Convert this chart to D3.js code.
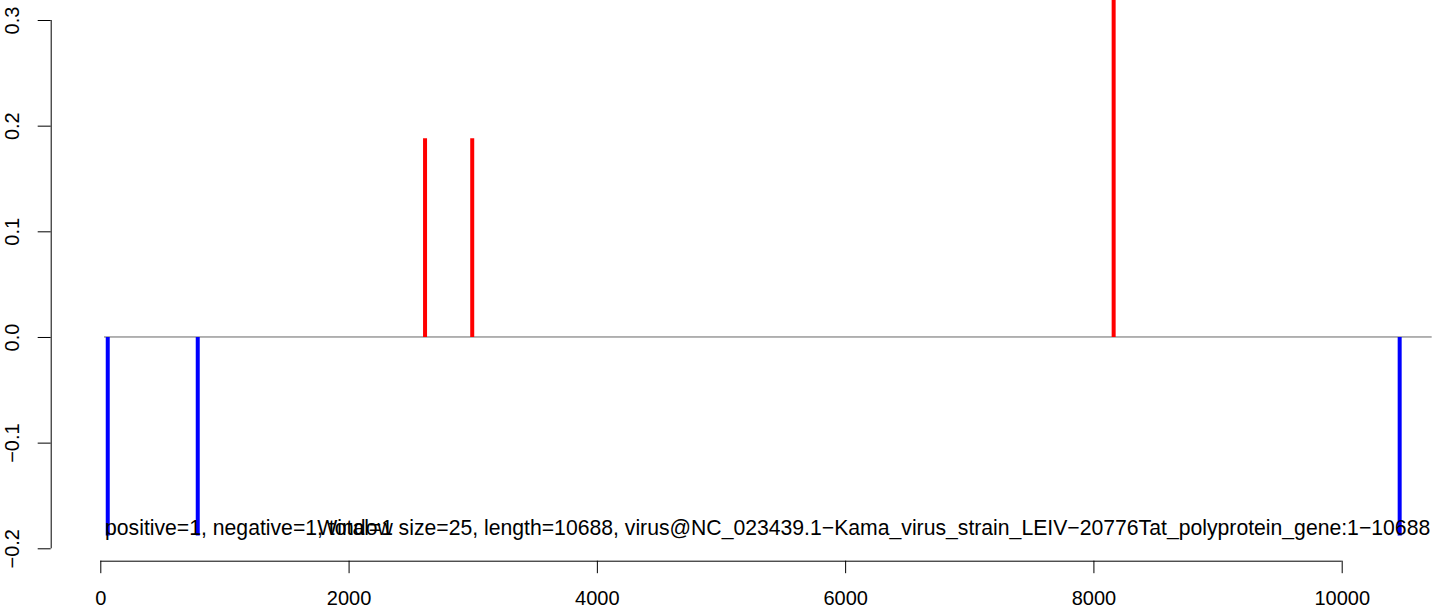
<!DOCTYPE html>
<html><head><meta charset="utf-8">
<script src="https://cdn.jsdelivr.net/npm/d3@7"></script>
<style>
body{margin:0;background:#fff;}
text{font-family:"Liberation Sans",Arial,sans-serif;}
</style></head>
<body><svg id="c" width="1444" height="608"></svg>
<script>
const posX = [2616, 2996, 8163];
const posY = [0.188, 0.188, 0.375];
const negX = [60, 785, 10467];
const negY = [-0.188, -0.188, -0.188];
const xTicks = [0, 2000, 4000, 6000, 8000, 10000];
const yTicks = [-0.2, -0.1, 0.0, 0.1, 0.2, 0.3];
const baseRange = [30, 10725];
const label1 = "positive=1, negative=1, total=1";
const label2 = "Window size=25, length=10688, virus@NC_023439.1\u2212Kama_virus_strain_LEIV\u221220776Tat_polyprotein_gene:1\u221210688";

const svg = d3.select("#c");
const x = d3.scaleLinear().domain([0, 10000]).range([100.3, 1341.7]);
const y = d3.scaleLinear().domain([-0.2, 0.3]).range([548.3, 20]);
const fs = 20, fsa = 21.2;

// zero baseline
svg.append("line").attr("x1", x(baseRange[0])).attr("x2", x(baseRange[1]))
  .attr("y1", y(0)).attr("y2", y(0)).attr("stroke", "#666").attr("stroke-width", 1);

// bars
svg.selectAll(".pos").data(posX).enter().append("line")
  .attr("x1", d => x(d)).attr("x2", d => x(d))
  .attr("y1", y(0)).attr("y2", (d, i) => y(posY[i]))
  .attr("stroke", "#ff0000").attr("stroke-width", 4);
svg.selectAll(".neg").data(negX).enter().append("line")
  .attr("x1", d => x(d)).attr("x2", d => x(d))
  .attr("y1", y(0)).attr("y2", (d, i) => y(negY[i]))
  .attr("stroke", "#0000ff").attr("stroke-width", 4);

// annotations
svg.append("text").attr("x", x(38)).attr("y", y(-0.1875)).attr("font-size", fsa)
  .attr("text-anchor", "start").attr("fill", "#000").text(label1);
svg.append("text").attr("x", x(10713)).attr("y", y(-0.1875)).attr("font-size", fsa)
  .attr("text-anchor", "end").attr("fill", "#000").text(label2);

// x axis
const xAxis = d3.axisBottom(x).tickValues(xTicks).tickSize(12.5).tickPadding(18).tickFormat(d3.format("d"));
const gx = svg.append("g").attr("transform", "translate(0,560.7)").call(xAxis);
gx.select(".domain").attr("d", `M${x(0)},0.5H${x(10000)}`).attr("stroke", "#000").attr("stroke-width", 1);
gx.selectAll(".tick line").attr("stroke", "#000");
gx.selectAll(".tick text").attr("font-size", fs).attr("font-family", "Liberation Sans, Arial, sans-serif").attr("fill", "#000");

// y axis
const yAxis = d3.axisLeft(y).tickValues(yTicks).tickSize(13).tickPadding(0).tickFormat(d3.format(".1f"));
const gy = svg.append("g").attr("transform", "translate(50.7,0)").call(yAxis);
gy.select(".domain").attr("d", `M0.5,${y(0.3)}V${y(-0.2)}`).attr("stroke", "#000");
gy.selectAll(".tick line").attr("stroke", "#000");
gy.selectAll(".tick text").attr("font-size", fs).attr("font-family", "Liberation Sans, Arial, sans-serif").attr("fill", "#000")
  .attr("text-anchor", "middle").attr("dy", null)
  .attr("transform", "translate(-37,0) rotate(-90)").attr("x", 0).attr("y", 0)
  .attr("dominant-baseline", "middle")
  .text(d => d3.format(".1f")(d).replace("-", "\u2212"));
</script></body></html>
